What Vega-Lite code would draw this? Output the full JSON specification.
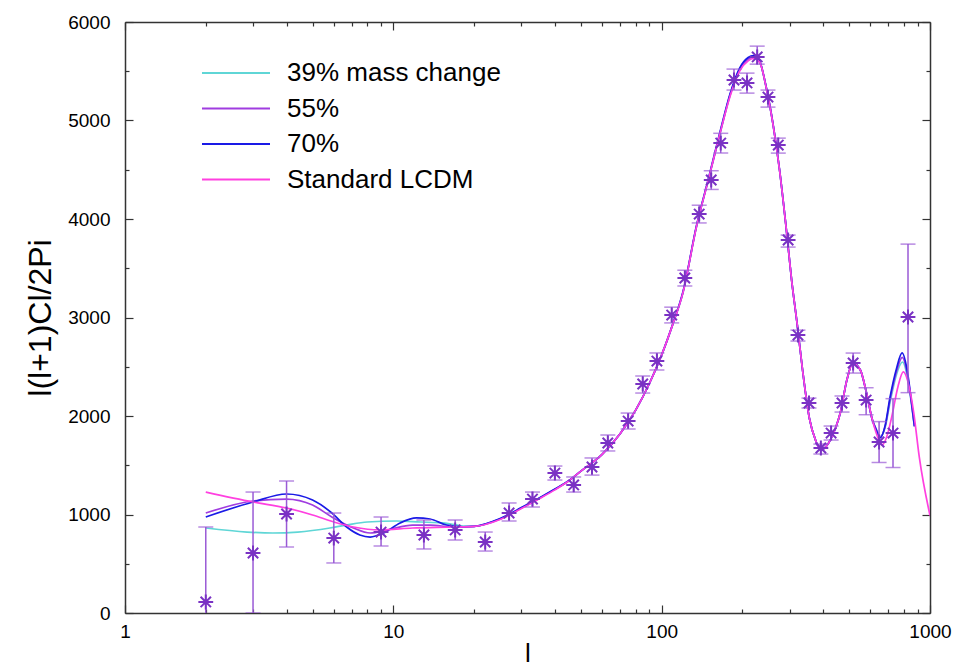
{
  "$schema": "https://vega.github.io/schema/vega-lite/v6.json",
  "width": 805,
  "height": 591,
  "autosize": "none",
  "padding": {"left": 125, "top": 22, "right": 23, "bottom": 54},
  "background": "white",
  "config": {
    "view": {"stroke": null},
    "axis": {
      "grid": false,
      "domainColor": "#333",
      "domainWidth": 1.5,
      "tickColor": "#333",
      "tickWidth": 1.2,
      "labelFont": "Liberation Sans",
      "labelFontSize": 19,
      "labelColor": "#000",
      "titleFont": "Liberation Sans",
      "titleFontSize": 30,
      "titleFontWeight": "normal",
      "titleColor": "#000"
    }
  },
  "datasets": {
    "curves": [
      {"model": "39% mass change", "l": 2, "v": 863},
      {"model": "39% mass change", "l": 2.85, "v": 822},
      {"model": "39% mass change", "l": 3.56, "v": 812},
      {"model": "39% mass change", "l": 4.4, "v": 822},
      {"model": "39% mass change", "l": 5.8, "v": 863},
      {"model": "39% mass change", "l": 6.7, "v": 893},
      {"model": "39% mass change", "l": 8, "v": 924},
      {"model": "39% mass change", "l": 10.3, "v": 934},
      {"model": "39% mass change", "l": 12.6, "v": 924},
      {"model": "39% mass change", "l": 15.3, "v": 914},
      {"model": "39% mass change", "l": 18.2, "v": 883},
      {"model": "39% mass change", "l": 20, "v": 880},
      {"model": "39% mass change", "l": 25, "v": 955},
      {"model": "39% mass change", "l": 30, "v": 1065},
      {"model": "39% mass change", "l": 35, "v": 1165},
      {"model": "39% mass change", "l": 40, "v": 1255},
      {"model": "39% mass change", "l": 45, "v": 1340},
      {"model": "39% mass change", "l": 50, "v": 1440},
      {"model": "39% mass change", "l": 60, "v": 1610},
      {"model": "39% mass change", "l": 70, "v": 1820},
      {"model": "39% mass change", "l": 80, "v": 2060},
      {"model": "39% mass change", "l": 90, "v": 2330},
      {"model": "39% mass change", "l": 100, "v": 2620},
      {"model": "39% mass change", "l": 110, "v": 2930},
      {"model": "39% mass change", "l": 120, "v": 3250},
      {"model": "39% mass change", "l": 135, "v": 3930},
      {"model": "39% mass change", "l": 150, "v": 4420},
      {"model": "39% mass change", "l": 165, "v": 4870},
      {"model": "39% mass change", "l": 180, "v": 5260},
      {"model": "39% mass change", "l": 195, "v": 5510},
      {"model": "39% mass change", "l": 210, "v": 5615},
      {"model": "39% mass change", "l": 220, "v": 5640},
      {"model": "39% mass change", "l": 232, "v": 5590},
      {"model": "39% mass change", "l": 245, "v": 5340},
      {"model": "39% mass change", "l": 260, "v": 4960},
      {"model": "39% mass change", "l": 275, "v": 4497},
      {"model": "39% mass change", "l": 290, "v": 3950},
      {"model": "39% mass change", "l": 305, "v": 3380},
      {"model": "39% mass change", "l": 320, "v": 2930},
      {"model": "39% mass change", "l": 335, "v": 2467},
      {"model": "39% mass change", "l": 355, "v": 1980},
      {"model": "39% mass change", "l": 375, "v": 1750},
      {"model": "39% mass change", "l": 392, "v": 1655},
      {"model": "39% mass change", "l": 410, "v": 1690},
      {"model": "39% mass change", "l": 425, "v": 1756},
      {"model": "39% mass change", "l": 445, "v": 1880},
      {"model": "39% mass change", "l": 463, "v": 2030},
      {"model": "39% mass change", "l": 490, "v": 2365},
      {"model": "39% mass change", "l": 516, "v": 2538},
      {"model": "39% mass change", "l": 550, "v": 2467},
      {"model": "39% mass change", "l": 580, "v": 2233},
      {"model": "39% mass change", "l": 610, "v": 1959},
      {"model": "39% mass change", "l": 630, "v": 1870},
      {"model": "39% mass change", "l": 652, "v": 1790},
      {"model": "39% mass change", "l": 680, "v": 1880},
      {"model": "39% mass change", "l": 710, "v": 2140},
      {"model": "39% mass change", "l": 750, "v": 2420},
      {"model": "39% mass change", "l": 790, "v": 2548},
      {"model": "39% mass change", "l": 820, "v": 2420},
      {"model": "39% mass change", "l": 850, "v": 2150},
      {"model": "39% mass change", "l": 875, "v": 1890},

      {"model": "55%", "l": 2, "v": 1015},
      {"model": "55%", "l": 3, "v": 1137},
      {"model": "55%", "l": 4, "v": 1157},
      {"model": "55%", "l": 5, "v": 1096},
      {"model": "55%", "l": 5.9, "v": 975},
      {"model": "55%", "l": 7.1, "v": 863},
      {"model": "55%", "l": 8.2, "v": 812},
      {"model": "55%", "l": 9.5, "v": 843},
      {"model": "55%", "l": 11.8, "v": 893},
      {"model": "55%", "l": 13.7, "v": 893},
      {"model": "55%", "l": 16.7, "v": 873},
      {"model": "55%", "l": 20, "v": 880},
      {"model": "55%", "l": 25, "v": 955},
      {"model": "55%", "l": 30, "v": 1065},
      {"model": "55%", "l": 35, "v": 1165},
      {"model": "55%", "l": 40, "v": 1255},
      {"model": "55%", "l": 45, "v": 1340},
      {"model": "55%", "l": 50, "v": 1440},
      {"model": "55%", "l": 60, "v": 1610},
      {"model": "55%", "l": 70, "v": 1820},
      {"model": "55%", "l": 80, "v": 2060},
      {"model": "55%", "l": 90, "v": 2330},
      {"model": "55%", "l": 100, "v": 2620},
      {"model": "55%", "l": 110, "v": 2930},
      {"model": "55%", "l": 120, "v": 3250},
      {"model": "55%", "l": 135, "v": 3930},
      {"model": "55%", "l": 150, "v": 4420},
      {"model": "55%", "l": 165, "v": 4870},
      {"model": "55%", "l": 180, "v": 5265},
      {"model": "55%", "l": 195, "v": 5520},
      {"model": "55%", "l": 210, "v": 5625},
      {"model": "55%", "l": 220, "v": 5648},
      {"model": "55%", "l": 232, "v": 5595},
      {"model": "55%", "l": 245, "v": 5340},
      {"model": "55%", "l": 260, "v": 4960},
      {"model": "55%", "l": 275, "v": 4497},
      {"model": "55%", "l": 290, "v": 3950},
      {"model": "55%", "l": 305, "v": 3380},
      {"model": "55%", "l": 320, "v": 2930},
      {"model": "55%", "l": 335, "v": 2467},
      {"model": "55%", "l": 355, "v": 1980},
      {"model": "55%", "l": 375, "v": 1750},
      {"model": "55%", "l": 392, "v": 1655},
      {"model": "55%", "l": 410, "v": 1690},
      {"model": "55%", "l": 425, "v": 1756},
      {"model": "55%", "l": 445, "v": 1880},
      {"model": "55%", "l": 463, "v": 2030},
      {"model": "55%", "l": 490, "v": 2365},
      {"model": "55%", "l": 516, "v": 2538},
      {"model": "55%", "l": 550, "v": 2467},
      {"model": "55%", "l": 580, "v": 2233},
      {"model": "55%", "l": 610, "v": 1959},
      {"model": "55%", "l": 630, "v": 1865},
      {"model": "55%", "l": 652, "v": 1785},
      {"model": "55%", "l": 680, "v": 1890},
      {"model": "55%", "l": 710, "v": 2170},
      {"model": "55%", "l": 750, "v": 2450},
      {"model": "55%", "l": 788, "v": 2595},
      {"model": "55%", "l": 820, "v": 2450},
      {"model": "55%", "l": 850, "v": 2165},
      {"model": "55%", "l": 875, "v": 1895},

      {"model": "70%", "l": 2, "v": 975},
      {"model": "70%", "l": 3, "v": 1127},
      {"model": "70%", "l": 4, "v": 1208},
      {"model": "70%", "l": 5, "v": 1147},
      {"model": "70%", "l": 5.9, "v": 1015},
      {"model": "70%", "l": 6.7, "v": 873},
      {"model": "70%", "l": 7.5, "v": 792},
      {"model": "70%", "l": 8.2, "v": 771},
      {"model": "70%", "l": 9.2, "v": 812},
      {"model": "70%", "l": 10.6, "v": 914},
      {"model": "70%", "l": 12.2, "v": 965},
      {"model": "70%", "l": 13.7, "v": 954},
      {"model": "70%", "l": 15.8, "v": 893},
      {"model": "70%", "l": 18.2, "v": 875},
      {"model": "70%", "l": 20, "v": 880},
      {"model": "70%", "l": 25, "v": 960},
      {"model": "70%", "l": 30, "v": 1070},
      {"model": "70%", "l": 35, "v": 1168},
      {"model": "70%", "l": 40, "v": 1258},
      {"model": "70%", "l": 45, "v": 1342},
      {"model": "70%", "l": 50, "v": 1440},
      {"model": "70%", "l": 60, "v": 1610},
      {"model": "70%", "l": 70, "v": 1820},
      {"model": "70%", "l": 80, "v": 2060},
      {"model": "70%", "l": 90, "v": 2330},
      {"model": "70%", "l": 100, "v": 2620},
      {"model": "70%", "l": 110, "v": 2935},
      {"model": "70%", "l": 120, "v": 3260},
      {"model": "70%", "l": 135, "v": 3940},
      {"model": "70%", "l": 150, "v": 4430},
      {"model": "70%", "l": 165, "v": 4885},
      {"model": "70%", "l": 180, "v": 5275},
      {"model": "70%", "l": 195, "v": 5530},
      {"model": "70%", "l": 210, "v": 5640},
      {"model": "70%", "l": 220, "v": 5660},
      {"model": "70%", "l": 232, "v": 5600},
      {"model": "70%", "l": 245, "v": 5345},
      {"model": "70%", "l": 260, "v": 4965},
      {"model": "70%", "l": 275, "v": 4500},
      {"model": "70%", "l": 290, "v": 3950},
      {"model": "70%", "l": 305, "v": 3380},
      {"model": "70%", "l": 320, "v": 2930},
      {"model": "70%", "l": 335, "v": 2467},
      {"model": "70%", "l": 355, "v": 1980},
      {"model": "70%", "l": 375, "v": 1750},
      {"model": "70%", "l": 392, "v": 1655},
      {"model": "70%", "l": 410, "v": 1690},
      {"model": "70%", "l": 425, "v": 1756},
      {"model": "70%", "l": 445, "v": 1880},
      {"model": "70%", "l": 463, "v": 2030},
      {"model": "70%", "l": 490, "v": 2365},
      {"model": "70%", "l": 516, "v": 2540},
      {"model": "70%", "l": 550, "v": 2467},
      {"model": "70%", "l": 580, "v": 2233},
      {"model": "70%", "l": 610, "v": 1959},
      {"model": "70%", "l": 630, "v": 1860},
      {"model": "70%", "l": 652, "v": 1777},
      {"model": "70%", "l": 680, "v": 1900},
      {"model": "70%", "l": 710, "v": 2193},
      {"model": "70%", "l": 750, "v": 2480},
      {"model": "70%", "l": 787, "v": 2640},
      {"model": "70%", "l": 820, "v": 2480},
      {"model": "70%", "l": 850, "v": 2180},
      {"model": "70%", "l": 875, "v": 1900},

      {"model": "Standard LCDM", "l": 2, "v": 1228},
      {"model": "Standard LCDM", "l": 3, "v": 1127},
      {"model": "Standard LCDM", "l": 4, "v": 1066},
      {"model": "Standard LCDM", "l": 5, "v": 995},
      {"model": "Standard LCDM", "l": 6, "v": 924},
      {"model": "Standard LCDM", "l": 7.1, "v": 873},
      {"model": "Standard LCDM", "l": 8.9, "v": 843},
      {"model": "Standard LCDM", "l": 11.8, "v": 863},
      {"model": "Standard LCDM", "l": 16.7, "v": 873},
      {"model": "Standard LCDM", "l": 20, "v": 880},
      {"model": "Standard LCDM", "l": 25, "v": 950},
      {"model": "Standard LCDM", "l": 30, "v": 1060},
      {"model": "Standard LCDM", "l": 35, "v": 1160},
      {"model": "Standard LCDM", "l": 40, "v": 1250},
      {"model": "Standard LCDM", "l": 45, "v": 1340},
      {"model": "Standard LCDM", "l": 50, "v": 1440},
      {"model": "Standard LCDM", "l": 60, "v": 1610},
      {"model": "Standard LCDM", "l": 70, "v": 1820},
      {"model": "Standard LCDM", "l": 80, "v": 2060},
      {"model": "Standard LCDM", "l": 90, "v": 2330},
      {"model": "Standard LCDM", "l": 100, "v": 2620},
      {"model": "Standard LCDM", "l": 110, "v": 2930},
      {"model": "Standard LCDM", "l": 120, "v": 3250},
      {"model": "Standard LCDM", "l": 135, "v": 3930},
      {"model": "Standard LCDM", "l": 150, "v": 4420},
      {"model": "Standard LCDM", "l": 165, "v": 4870},
      {"model": "Standard LCDM", "l": 180, "v": 5250},
      {"model": "Standard LCDM", "l": 195, "v": 5500},
      {"model": "Standard LCDM", "l": 210, "v": 5605},
      {"model": "Standard LCDM", "l": 220, "v": 5630},
      {"model": "Standard LCDM", "l": 232, "v": 5590},
      {"model": "Standard LCDM", "l": 245, "v": 5340},
      {"model": "Standard LCDM", "l": 260, "v": 4960},
      {"model": "Standard LCDM", "l": 275, "v": 4497},
      {"model": "Standard LCDM", "l": 290, "v": 3950},
      {"model": "Standard LCDM", "l": 305, "v": 3380},
      {"model": "Standard LCDM", "l": 320, "v": 2930},
      {"model": "Standard LCDM", "l": 335, "v": 2467},
      {"model": "Standard LCDM", "l": 355, "v": 1980},
      {"model": "Standard LCDM", "l": 375, "v": 1750},
      {"model": "Standard LCDM", "l": 392, "v": 1655},
      {"model": "Standard LCDM", "l": 410, "v": 1690},
      {"model": "Standard LCDM", "l": 425, "v": 1756},
      {"model": "Standard LCDM", "l": 445, "v": 1880},
      {"model": "Standard LCDM", "l": 463, "v": 2030},
      {"model": "Standard LCDM", "l": 490, "v": 2365},
      {"model": "Standard LCDM", "l": 516, "v": 2535},
      {"model": "Standard LCDM", "l": 550, "v": 2467},
      {"model": "Standard LCDM", "l": 580, "v": 2233},
      {"model": "Standard LCDM", "l": 610, "v": 1959},
      {"model": "Standard LCDM", "l": 630, "v": 1830},
      {"model": "Standard LCDM", "l": 662, "v": 1706},
      {"model": "Standard LCDM", "l": 690, "v": 1790},
      {"model": "Standard LCDM", "l": 720, "v": 1990},
      {"model": "Standard LCDM", "l": 760, "v": 2300},
      {"model": "Standard LCDM", "l": 795, "v": 2447},
      {"model": "Standard LCDM", "l": 843, "v": 2250},
      {"model": "Standard LCDM", "l": 870, "v": 2030},
      {"model": "Standard LCDM", "l": 912, "v": 1584},
      {"model": "Standard LCDM", "l": 1000, "v": 990}
    ],
    "obs": [
      {"l": 2, "v": 112, "lo": -300, "hi": 873},
      {"l": 3, "v": 609, "lo": 0, "hi": 1228},
      {"l": 4, "v": 1005, "lo": 670, "hi": 1340},
      {"l": 6, "v": 761, "lo": 508, "hi": 1015},
      {"l": 9, "v": 822, "lo": 680, "hi": 975},
      {"l": 13, "v": 792, "lo": 650, "hi": 944},
      {"l": 17, "v": 843, "lo": 741, "hi": 944},
      {"l": 22, "v": 721, "lo": 629, "hi": 822},
      {"l": 27, "v": 1015, "lo": 934, "hi": 1117},
      {"l": 33, "v": 1157, "lo": 1076, "hi": 1228},
      {"l": 40, "v": 1421, "lo": 1350, "hi": 1492},
      {"l": 47, "v": 1300, "lo": 1228, "hi": 1381},
      {"l": 55, "v": 1482, "lo": 1400, "hi": 1574},
      {"l": 63, "v": 1726, "lo": 1645, "hi": 1807},
      {"l": 75, "v": 1949, "lo": 1868, "hi": 2030},
      {"l": 85, "v": 2325, "lo": 2233, "hi": 2406},
      {"l": 96, "v": 2558, "lo": 2467, "hi": 2640},
      {"l": 109, "v": 3025, "lo": 2945, "hi": 3105},
      {"l": 122, "v": 3401, "lo": 3320, "hi": 3480},
      {"l": 138, "v": 4050, "lo": 3960, "hi": 4140},
      {"l": 153, "v": 4396, "lo": 4300, "hi": 4490},
      {"l": 166, "v": 4771, "lo": 4670, "hi": 4870},
      {"l": 186, "v": 5411, "lo": 5309, "hi": 5522},
      {"l": 208, "v": 5381, "lo": 5278, "hi": 5481},
      {"l": 227, "v": 5645, "lo": 5572, "hi": 5755},
      {"l": 249, "v": 5238, "lo": 5136, "hi": 5309},
      {"l": 272, "v": 4751, "lo": 4669, "hi": 4821},
      {"l": 296, "v": 3787, "lo": 3715, "hi": 3837},
      {"l": 322, "v": 2822, "lo": 2761, "hi": 2872},
      {"l": 354, "v": 2132, "lo": 2081, "hi": 2182},
      {"l": 392, "v": 1675, "lo": 1614, "hi": 1715},
      {"l": 428, "v": 1827, "lo": 1756, "hi": 1898},
      {"l": 470, "v": 2132, "lo": 2040, "hi": 2203},
      {"l": 517, "v": 2538, "lo": 2436, "hi": 2639},
      {"l": 578, "v": 2162, "lo": 2013, "hi": 2287},
      {"l": 646, "v": 1736, "lo": 1528, "hi": 1943},
      {"l": 728, "v": 1827, "lo": 1477, "hi": 2176},
      {"l": 828, "v": 3005, "lo": 2237, "hi": 3745}
    ]
  },
  "resolve": {"axis": {"x": "independent", "y": "independent"}},
  "layer": [
    {
      "data": {"name": "curves"},
      "mark": {"type": "line", "strokeWidth": 1.7, "interpolate": "monotone", "clip": true},
      "encoding": {
        "x": {
          "field": "l", "type": "quantitative",
          "scale": {"type": "log", "domain": [1, 1000]},
          "axis": {
            "orient": "bottom",
            "title": "l",
            "titleFontSize": 26,
            "titlePadding": -5,
            "values": [1,2,3,4,5,6,7,8,9,10,20,30,40,50,60,70,80,90,100,200,300,400,500,600,700,800,900,1000],
            "format": "d",
            "labelExpr": "indexof([1,10,100,1000], datum.value) >= 0 ? datum.label : ''",
            "tickSize": {"condition": {"test": "indexof([1,10,100,1000], datum.value) >= 0", "value": -8}, "value": -4},
            "labelPadding": 17,
            "labelOverlap": false,
            "labelFlush": false
          }
        },
        "y": {
          "field": "v", "type": "quantitative",
          "scale": {"domain": [0, 6000], "nice": false, "zero": false},
          "axis": {
            "orient": "left",
            "title": "l(l+1)Cl/2Pi",
            "titleFontSize": 32,
            "titlePadding": 10,
            "values": [0,500,1000,1500,2000,2500,3000,3500,4000,4500,5000,5500,6000],
            "format": "d",
            "labelExpr": "datum.value % 1000 == 0 ? datum.label : ''",
            "tickSize": {"condition": {"test": "datum.value % 1000 == 0", "value": -8}, "value": -4},
            "labelPadding": 23,
            "labelOverlap": false,
            "labelFlush": false
          }
        },
        "color": {
          "field": "model", "type": "nominal",
          "scale": {
            "domain": ["39% mass change", "55%", "70%", "Standard LCDM"],
            "range": ["#5fd6d6", "#a03ce0", "#1a1ae6", "#ff40e0"]
          },
          "legend": {
            "orient": "none",
            "legendX": 98,
            "legendY": 38,
            "title": null,
            "symbolType": "M-3,0L3,0",
            "symbolSize": 514,
            "symbolStrokeWidth": 2,
            "labelFont": "Liberation Sans",
            "labelFontSize": 26,
            "labelColor": "#000",
            "labelOffset": 38,
            "labelLimit": 0,
            "rowPadding": 9.5
          }
        }
      }
    },
    {
      "data": {"name": "obs"},
      "encoding": {
        "x": {
          "field": "l", "type": "quantitative",
          "scale": {"type": "log", "domain": [1, 1000]},
          "axis": {
            "orient": "top",
            "title": null,
            "labels": false,
            "values": [1,2,3,4,5,6,7,8,9,10,20,30,40,50,60,70,80,90,100,200,300,400,500,600,700,800,900,1000],
            "tickSize": {"condition": {"test": "indexof([1,10,100,1000], datum.value) >= 0", "value": -8}, "value": -4}
          }
        }
      },
      "layer": [
        {
          "mark": {"type": "rule", "color": "#9a5ad6", "strokeWidth": 1.5, "clip": true},
          "encoding": {
            "y": {
              "field": "lo", "type": "quantitative",
              "scale": {"domain": [0, 6000], "nice": false, "zero": false},
              "axis": {
                "orient": "right",
                "title": null,
                "labels": false,
                "values": [0,500,1000,1500,2000,2500,3000,3500,4000,4500,5000,5500,6000],
                "tickSize": {"condition": {"test": "datum.value % 1000 == 0", "value": -8}, "value": -4}
              }
            },
            "y2": {"field": "hi"}
          }
        },
        {
          "mark": {"type": "tick", "orient": "horizontal", "color": "#9a5ad6", "size": 15, "thickness": 1.5, "clip": true},
          "encoding": {"y": {"field": "lo", "type": "quantitative"}}
        },
        {
          "mark": {"type": "tick", "orient": "horizontal", "color": "#9a5ad6", "size": 15, "thickness": 1.5, "clip": true},
          "encoding": {"y": {"field": "hi", "type": "quantitative"}}
        },
        {
          "mark": {
            "type": "point",
            "shape": "M-1,0L1,0M0,-1L0,1M-0.7,-0.7L0.7,0.7M-0.7,0.7L0.7,-0.7",
            "filled": false,
            "size": 220,
            "strokeWidth": 2,
            "color": "#7a32c4",
            "opacity": 1
          },
          "encoding": {"y": {"field": "v", "type": "quantitative"}}
        }
      ]
    }
  ]
}
